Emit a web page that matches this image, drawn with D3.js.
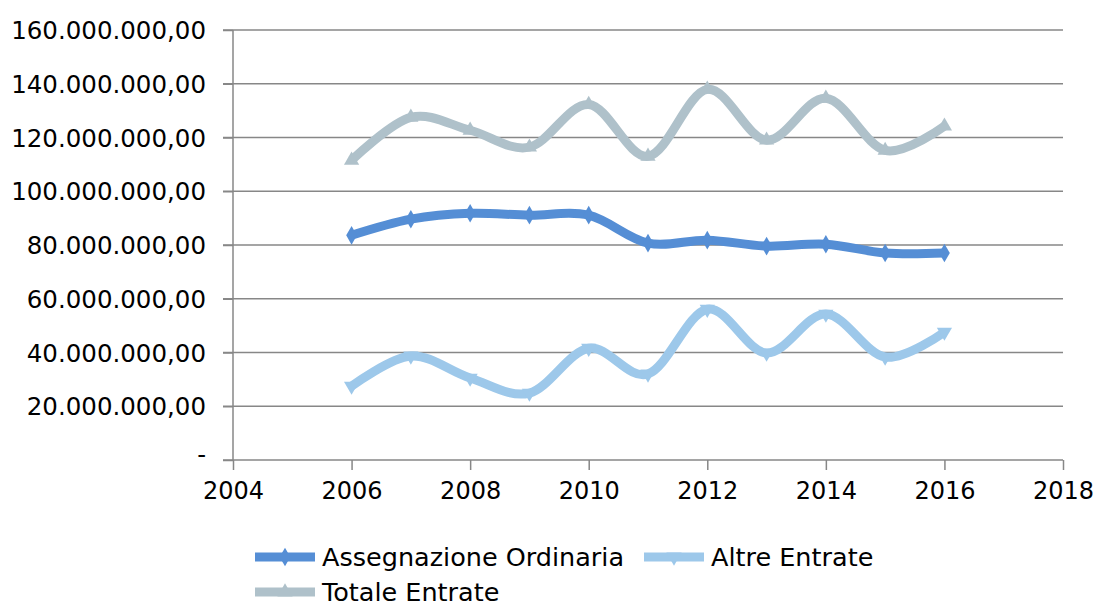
<!DOCTYPE html>
<meta charset="utf-8">
<style>
body { margin: 0; background: #fff; }
text { font-family: "DejaVu Sans", sans-serif; fill: #000; }
.grid line { stroke: #878787; stroke-width: 1.5px; }
.axis path, .axis line { stroke: #878787; stroke-width: 1.5px; }
.series { fill: none; stroke-width: 9px; stroke-linejoin: round; }
</style>
<svg width="1099" height="604"></svg>
<script src="https://d3js.org/d3.v7.min.js"></script>
<script>

var years = [2006, 2007, 2008, 2009, 2010, 2011, 2012, 2013, 2014, 2015, 2016];
var assegnazione = [83.6, 89.6, 91.8, 91.1, 91.1, 80.7, 81.8, 79.6, 80.3, 77.0, 77.0];
var altre = [27.5, 38.7, 30.5, 24.9, 41.6, 32.0, 56.1, 39.8, 54.3, 38.3, 47.6];
var totale = [111.5, 127.5, 122.7, 116.4, 132.3, 113.0, 137.9, 119.0, 134.6, 115.2, 124.2];
var yTicks = [0, 20, 40, 60, 80, 100, 120, 140, 160];
var xTicks = [2004, 2006, 2008, 2010, 2012, 2014, 2016, 2018];

var series = [
  { name: "Assegnazione Ordinaria", values: assegnazione, color: "#558ed5", marker: d3.symbolDiamond },
  { name: "Altre Entrate", values: altre, color: "#9dc8ea", marker: "down" },
  { name: "Totale Entrate", values: totale, color: "#afc1ca", marker: d3.symbolTriangle }
];

var svg = d3.select("svg"),
    plotL = 233, plotR = 1063, plotT = 30, plotB = 460;

var x = d3.scaleLinear().domain([2004, 2018]).range([plotL, plotR]);
var y = d3.scaleLinear().domain([0, 160]).range([plotB, plotT]);

var fmt = function(v) {
  if (v === 0) return "-";
  return d3.format(",.2f")(v * 1e6).replace(/,/g, "#").replace(".", ",").replace(/#/g, ".");
};

// gridlines
svg.append("g").attr("class", "grid")
  .selectAll("line")
  .data(yTicks.filter(function(d) { return d > 0; }))
  .enter().append("line")
    .attr("x1", plotL - 10).attr("x2", plotR)
    .attr("y1", function(d) { return y(d); })
    .attr("y2", function(d) { return y(d); });

// y axis
var yAxis = svg.append("g").attr("class", "axis")
  .attr("transform", "translate(" + plotL + ",0)")
  .call(d3.axisLeft(y).tickValues(yTicks).tickFormat(fmt).tickSize(10).tickPadding(17));
yAxis.select(".domain").attr("d", "M0," + plotT + "V" + plotB);
yAxis.selectAll("text").style("font-size", "24.5px").attr("dy", "0.35em");
yAxis.selectAll(".tick").filter(function(d) { return d === 0; }).select("text").attr("dy", "0.1em");

// x axis
var xAxis = svg.append("g").attr("class", "axis")
  .attr("transform", "translate(0," + plotB + ")")
  .call(d3.axisBottom(x).tickValues(xTicks).tickFormat(d3.format("d")).tickSize(10).tickPadding(12));
xAxis.select(".domain").attr("d", "M" + (plotL - 10) + ",0H" + plotR);
xAxis.selectAll("text").style("font-size", "24px");

var line = d3.line()
  .x(function(d, i) { return x(years[i]); })
  .y(function(d) { return y(d); })
  .curve(d3.curveCardinal.tension(0));

function markerPath(m, size) {
  if (m === "down") return d3.symbol().type(d3.symbolTriangle).size(size)();
  return d3.symbol().type(m).size(size)();
}

series.slice().reverse().forEach(function(s) {
  var g = svg.append("g");
  g.append("path").attr("class", "series")
    .attr("d", line(s.values))
    .attr("stroke", s.color);
  g.selectAll("path.mk")
    .data(s.values)
    .enter().append("path")
      .attr("class", "mk")
      .attr("d", markerPath(s.marker, 100))
      .attr("fill", s.color)
      .attr("transform", function(d, i) {
        return "translate(" + x(years[i]) + "," + y(d) + ")" + (s.marker === "down" ? " rotate(180)" : "");
      });
});

// legend
var legendPos = [[255, 557], [644, 557], [255, 592]];
series.forEach(function(s, i) {
  var g = svg.append("g").attr("transform", "translate(" + legendPos[i][0] + "," + legendPos[i][1] + ")");
  g.append("line").attr("x1", 0).attr("x2", 60).attr("y1", 0).attr("y2", 0)
    .attr("stroke", s.color).attr("stroke-width", 9);
  g.append("path").attr("d", markerPath(s.marker, 100)).attr("fill", s.color)
    .attr("transform", "translate(30,0)" + (s.marker === "down" ? " rotate(180)" : ""));
  g.append("text").attr("x", 67).attr("dy", "0.35em").style("font-size", "25.5px").text(s.name);
});

</script>
